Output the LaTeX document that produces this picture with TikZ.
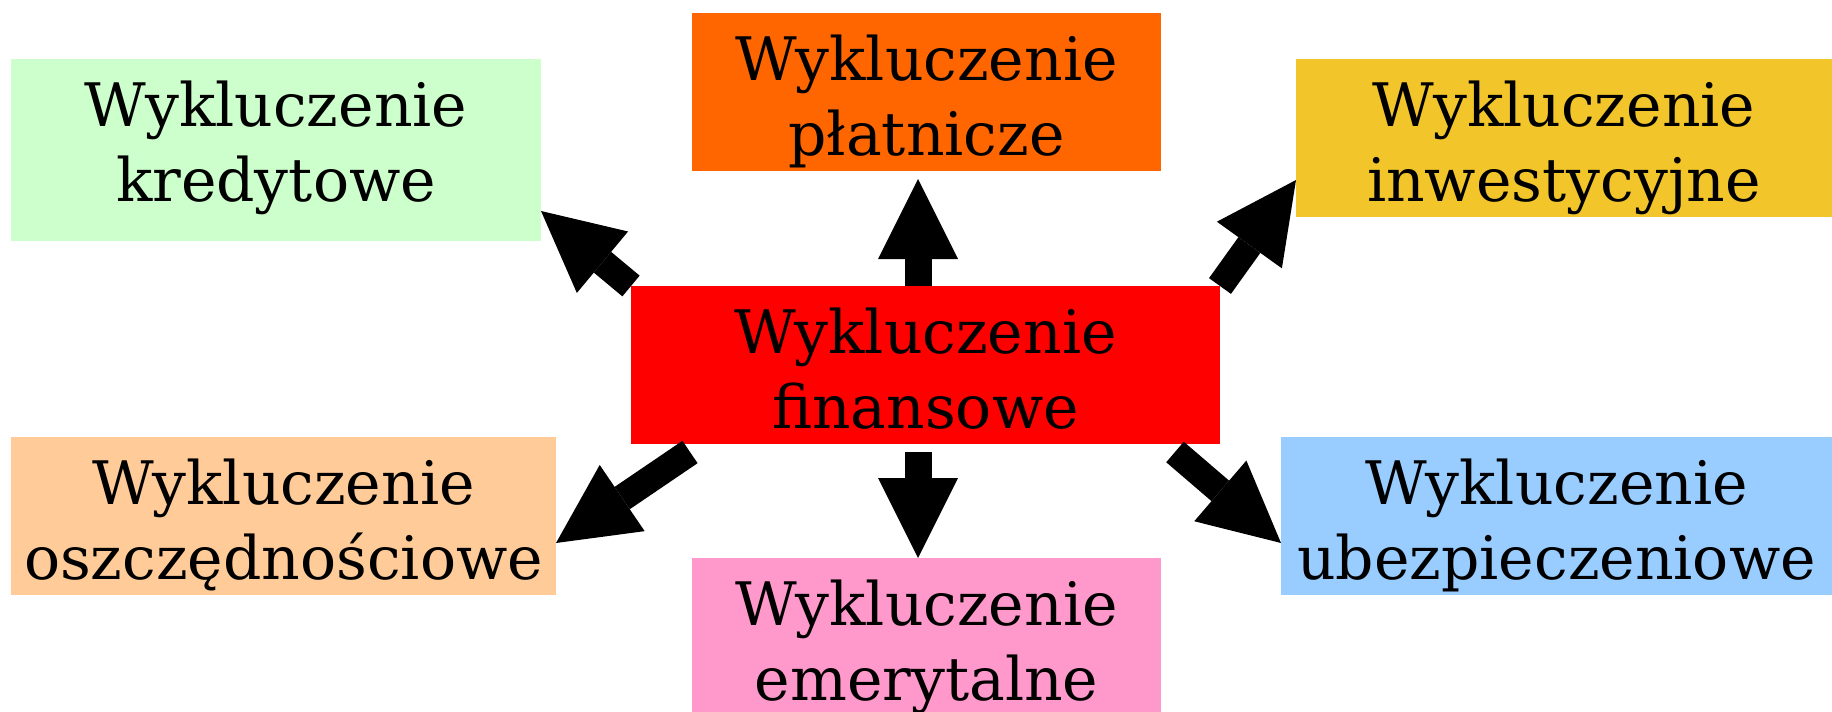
\documentclass[tikz,border=0pt]{standalone}
\usepackage{fontspec}
\setmainfont{DejaVu Serif}
\usetikzlibrary{arrows.meta,calc}
\definecolor{cKred}{HTML}{CCFFCC}
\definecolor{cPlat}{HTML}{FF6600}
\definecolor{cInw}{HTML}{F2C62A}
\definecolor{cFin}{HTML}{FF0000}
\definecolor{cOsz}{HTML}{FFCC99}
\definecolor{cEmer}{HTML}{FF99CC}
\definecolor{cUbez}{HTML}{99CCFF}
\begin{document}
\begin{tikzpicture}[x=1pt,y=-1pt,
  boxnode/.style={draw=none, inner sep=0pt, outer sep=0pt, anchor=north west,
    align=center, font=\fontsize{60}{75}\selectfont, text height=142pt, text depth=16pt},
  bigarrow/.style={line width=27pt, draw=black,
    -{Triangle[length=80pt,width=80pt,line width=0pt]}}]
\useasboundingbox (0,0) rectangle (1832,712);
\node[boxnode, fill=cKred, minimum width=530pt, text depth=40pt] (kred) at (11,59) {Wykluczenie\\kredytowe};
\node[boxnode, fill=cPlat, minimum width=469pt] (plat) at (692,13) {Wykluczenie\\płatnicze};
\node[boxnode, fill=cInw, minimum width=536pt] (inw) at (1296,59) {Wykluczenie\\inwestycyjne};
\node[boxnode, fill=cFin, minimum width=589pt] (fin) at (631,286) {Wykluczenie\\finansowe};
\node[boxnode, fill=cOsz, minimum width=545pt] (osz) at (11,437) {Wykluczenie\\oszczędnościowe};
\node[boxnode, fill=cEmer, minimum width=469pt] (emer) at (692,558) {Wykluczenie\\emerytalne};
\node[boxnode, fill=cUbez, minimum width=551pt] (ubez) at (1281,437) {Wykluczenie\\ubezpieczeniowe};
% arrows
\draw[bigarrow] ($(fin.north west)+(287,0)$) -- ($(plat.south west)+(226,8)$);
\draw[bigarrow] ($(fin.south west)+(287,8)$) -- ($(emer.north west)+(226,0)$);
\draw[bigarrow] (fin.north west) -- ($(kred.north east)+(0,152)$);
\draw[bigarrow] (fin.north east) -- ($(inw.north west)+(0,121)$);
\draw[bigarrow] ($(fin.south west)+(59,8)$) -- ($(osz.north east)+(0,106)$);
\draw[bigarrow] ($(fin.south west)+(544,8)$) -- ($(ubez.north west)+(0,106)$);
\end{tikzpicture}
\end{document}
